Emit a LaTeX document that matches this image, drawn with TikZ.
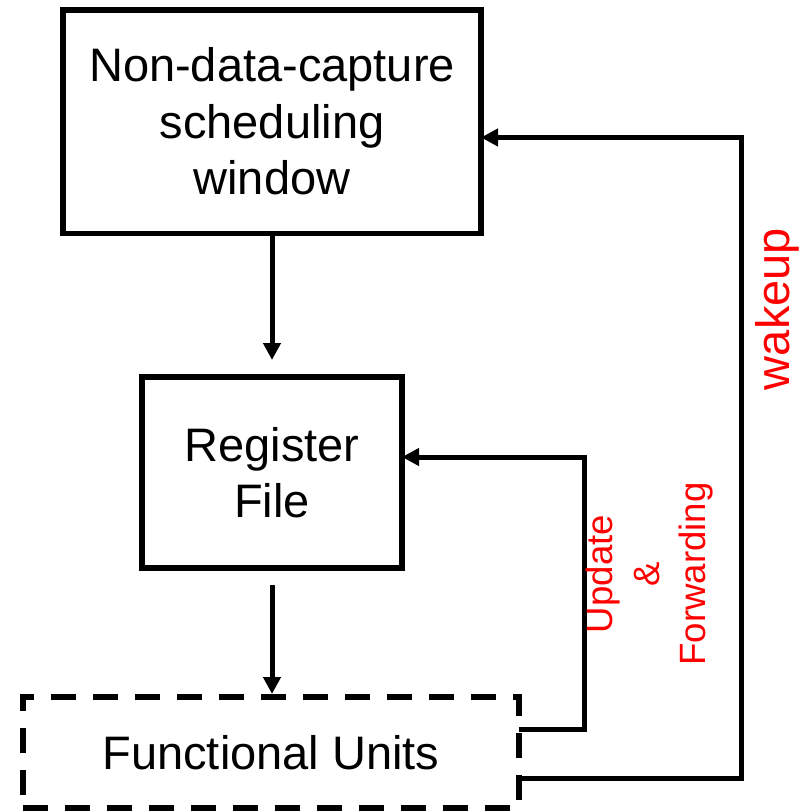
\documentclass[tikz,border=0pt]{standalone}
\usepackage{fontspec}
\setmainfont{Liberation Sans}
\usetikzlibrary{arrows.meta}
\begin{document}
\begin{tikzpicture}[x=1pt,y=-1pt,
  box/.style={draw, line width=5.5pt, inner sep=0pt, outer sep=0pt, align=center,
    font=\fontsize{47}{56.5}\selectfont},
  fubox/.style={box, dash pattern=on 25pt off 17pt},
  flow/.style={line width=5pt, -{Triangle[width=17pt,length=17pt]}},
  wire/.style={line width=5pt},
  lbl/.style={text=red, rotate=90, align=center, inner sep=0pt}
]
\useasboundingbox (0,0) rectangle (804,811);

% blocks
\node[box, minimum width=418pt, minimum height=223.5pt] (sched) at (272,121.5)
  {Non-data-capture\\scheduling\\window};
\node[box, minimum width=260pt, minimum height=191pt] (rf) at (272,472.5)
  {Register\\File};
\node[fubox, minimum width=496pt, minimum height=111pt] (fu) at (271,752.5)
  {Functional Units};

% forward path
\draw[flow, shorten >=17pt] (sched.south) -- (rf.north);
\draw[flow, shorten <=17pt, shorten >=3pt] (rf.south) -- (rf.south |- fu.north);

% feedback paths
\draw[flow] ([yshift=23.5pt]fu.east) -- ++(65,0) |- ([yshift=15.5pt]rf.east);
\draw[flow] ([yshift=-25.5pt]fu.east) -- ++(222,0) |- ([yshift=-16pt]sched.east);

% labels
\node[lbl, font=\fontsize{47}{56}\selectfont] (wk) at (777,309) {wakeup};
\node[lbl, font=\fontsize{36.6}{46.5}\selectfont] (uf) at (650,574)
  {Update\\\&\\Forwarding};
\end{tikzpicture}
\end{document}
